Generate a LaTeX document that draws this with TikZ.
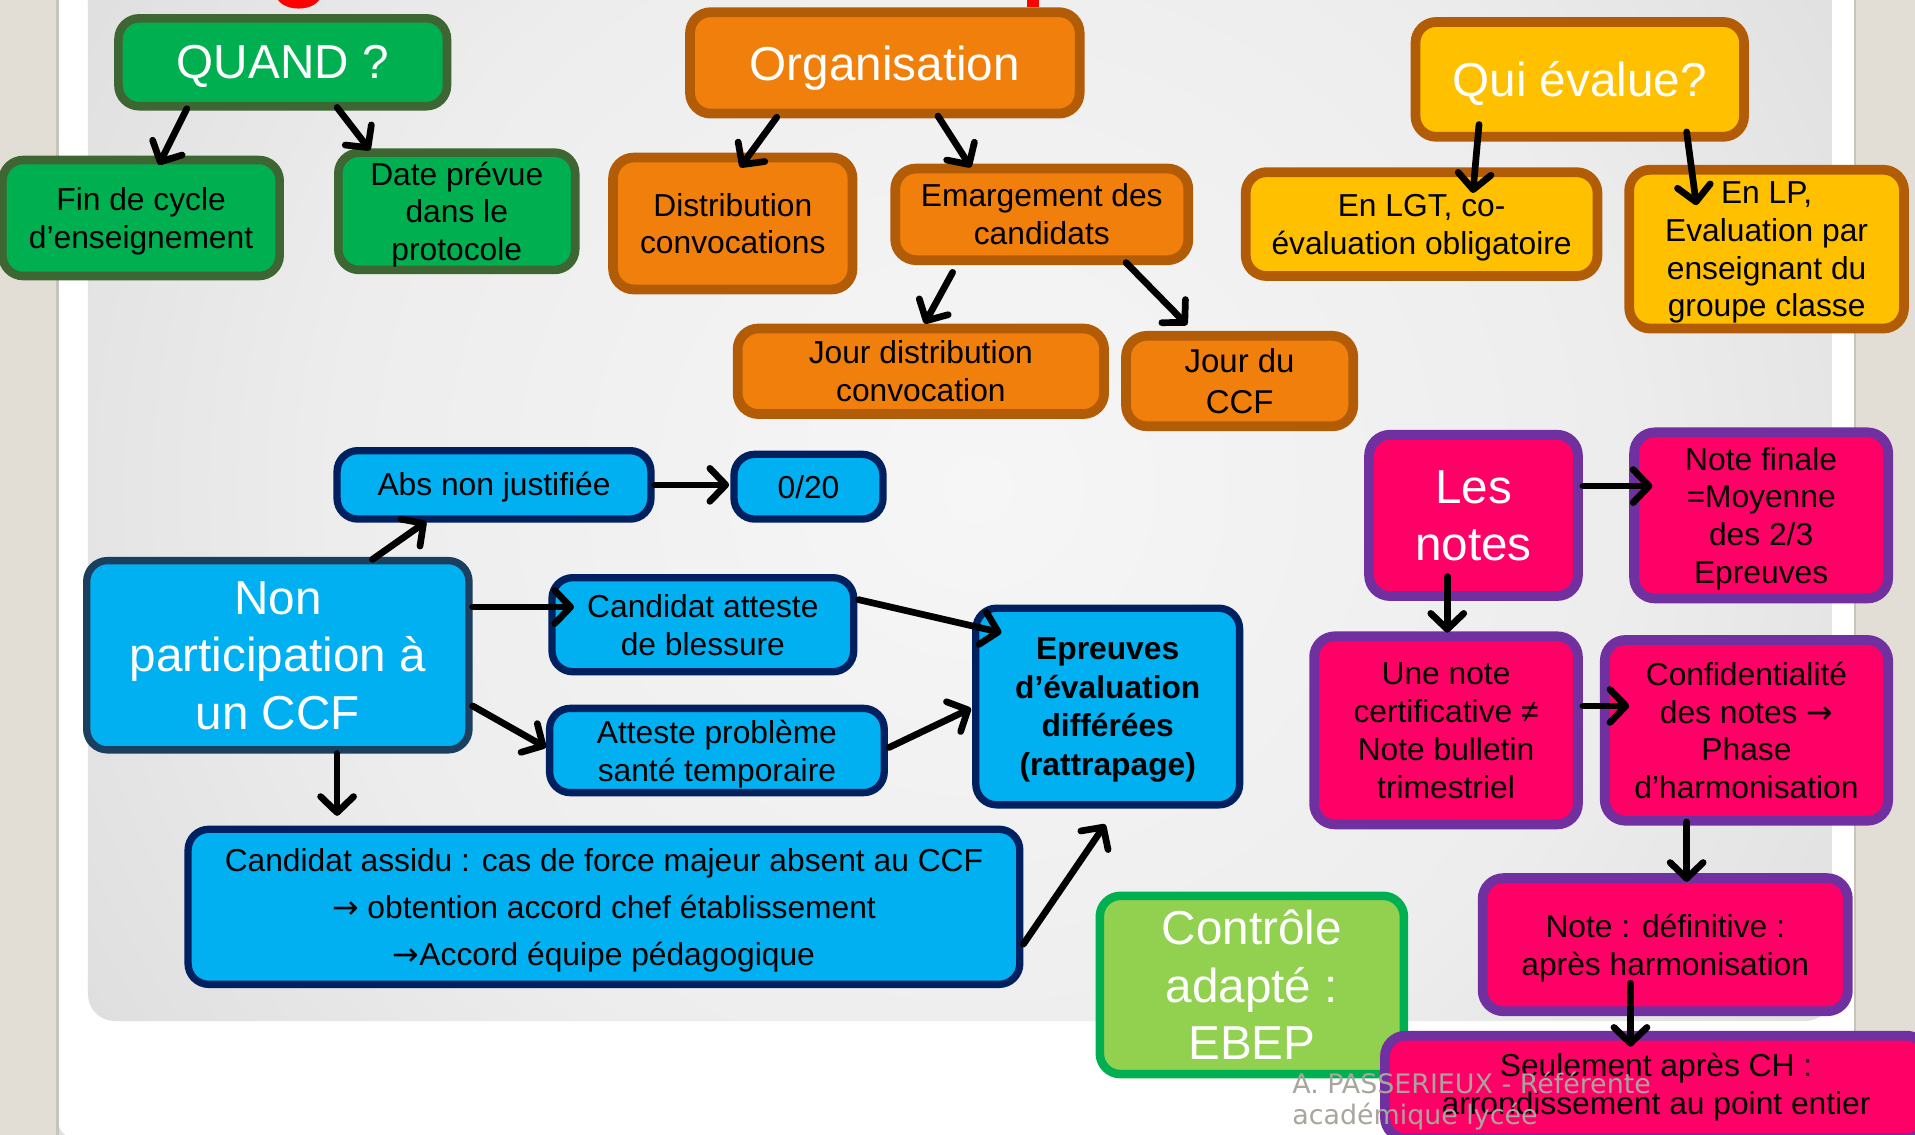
\documentclass[tikz,border=0pt]{standalone}
\usepackage{fontspec}
\setmainfont{Liberation Sans}
\newfontfamily\footfont{DejaVu Sans}
\newcommand\myarrow{{\footfont →}}
\usetikzlibrary{arrows.meta}

\definecolor{grnfill}{HTML}{00B050}
\definecolor{grnline}{HTML}{3E6632}
\definecolor{orfill}{HTML}{F07F0B}
\definecolor{orline}{HTML}{B35C07}
\definecolor{yefill}{HTML}{FFC000}
\definecolor{pkfill}{HTML}{FF0066}
\definecolor{pkline}{HTML}{7030A0}
\definecolor{blfill}{HTML}{00B0F0}
\definecolor{blline}{HTML}{002060}
\definecolor{npline}{HTML}{1B3F5E}
\definecolor{lgfill}{HTML}{92D050}
\definecolor{beige}{HTML}{E3DED5}
\definecolor{beigeline}{HTML}{C9C4BA}
\definecolor{footgray}{HTML}{A9A59D}
\definecolor{shA}{HTML}{F6F6F6}
\definecolor{shB}{HTML}{EDEDED}
\definecolor{shC}{HTML}{DEDEDE}
\definecolor{shD}{HTML}{B6B6B6}
\definecolor{shE}{HTML}{A6A6A6}
\pgfdeclareradialshading{panelshade}{\pgfpoint{0bp}{0bp}}{color(0bp)=(shA); color(18bp)=(shB); color(30bp)=(shC); color(50bp)=(shD); color(60bp)=(shE); color(80bp)=(shE)}

\tikzset{
  bx/.style={draw, rounded corners=17pt, align=center, inner sep=0pt, text=black,
    font=\fontsize{26}{31}\selectfont},
  big/.style={font=\fontsize{39}{47}\selectfont, text=white},
  grn/.style={bx, fill=grnfill, draw=grnline, line width=7pt},
  org/.style={bx, fill=orfill, draw=orline, line width=8pt},
  yel/.style={bx, fill=yefill, draw=orline, line width=8pt},
  pnk/.style={bx, fill=pkfill, draw=pkline, line width=8pt},
  blu/.style={bx, fill=blfill, draw=blline, line width=6pt},
  arr/.style={line width=5.5pt, line cap=round, -{Straight Barb[length=13pt,width=27pt,round]}},
}

\begin{document}
\begin{tikzpicture}[x=1pt,y=-1pt]
\useasboundingbox (0,0) rectangle (1568,929);
\clip (0,0) rectangle (1568,929);

% background
\fill[beige] (0,0) rectangle (1568,929);
\fill[white, rounded corners=12pt] (48,-40) rectangle (1518,931);
\draw[beigeline, line width=2pt] (47,0) -- (47,929);
\draw[beigeline, line width=2pt] (1519,0) -- (1519,929);
\begin{scope}
  \clip[rounded corners=22pt] (72,-60) rectangle (1500,836);
  \shade[shading=panelshade] (72,-300) rectangle (1528,1100);
\end{scope}

% red remnants of the title
\fill[red] (244.5,-4) ellipse [x radius=18pt, y radius=11pt];
\fill[red] (841,-5) rectangle (851,6);

% QUAND
\node[grn, big, text depth=-8pt, minimum width=269pt, minimum height=72pt] (quand) at (231.5,51) {QUAND ?};
\node[grn, text depth=-8pt, minimum width=227pt, minimum height=95pt] (fin) at (115.5,178.5) {Fin de cycle\\d’enseignement};
\node[grn, text depth=-7pt, minimum width=194pt, minimum height=96pt] (date) at (374,173) {Date prévue\\dans le\\protocole};

% Organisation
\node[org, big, text depth=0pt, minimum width=319pt, minimum height=83pt] (orga) at (724.5,51.5) {Organisation};
\node[org, text depth=-6pt, minimum width=196pt, minimum height=108pt] (distrib) at (600,183) {Distribution\\convocations};
\node[org, text depth=-5pt, minimum width=240pt, minimum height=75pt] (emarg) at (853,175.5) {Emargement des\\candidats};
\node[org, text depth=-4pt, minimum width=300pt, minimum height=70pt] (jourdist) at (754,304) {Jour distribution\\convocation};
\node[org, text depth=-4pt, minimum width=186pt, minimum height=74pt, font=\fontsize{27}{33}\selectfont] (jourccf) at (1015,312) {Jour du\\CCF};

% Qui evalue
\node[yel, big, text depth=-4.5pt, minimum width=269pt, minimum height=94pt] (qui) at (1293.5,65) {Qui évalue?};
\node[yel, text depth=-9pt, minimum width=288pt, minimum height=85pt] (lgt) at (1164,183.5) {En LGT, co-\\évaluation obligatoire};
\node[yel, text depth=-11pt, minimum width=225pt, minimum height=130pt] (lp) at (1446.5,204) {En LP,\\Evaluation par\\enseignant du\\groupe classe};

% Non participation
\node[blu, text depth=1.5pt, minimum width=257pt, minimum height=56pt] (abs) at (404.5,397) {Abs non justifiée};
\node[blu, minimum width=122pt, minimum height=53pt] (zero) at (662,398.5) {0/20};
\node[blu, big, text depth=-4pt, draw=npline, minimum width=313pt, minimum height=155pt] (nonpart) at (227.5,536.5) {Non\\participation à\\un CCF};
\node[blu, text depth=-3pt, minimum width=247pt, minimum height=77pt] (candatt) at (575.5,511.5) {Candidat atteste\\de blessure};
\node[blu, text depth=-7pt, minimum width=274pt, minimum height=69pt] (attprob) at (587,614.5) {Atteste problème\\santé temporaire};
\node[blu, text depth=-11pt, minimum width=216pt, minimum height=161pt, font=\fontsize{26}{31.5}\selectfont\bfseries] (epreuves) at (907,578.5) {Epreuves\\d’évaluation\\différées\\(rattrapage)};
\node[blu, text depth=-8pt, minimum width=681pt, minimum height=127pt, font=\fontsize{26}{38.5}\selectfont] (assidu) at (494.5,742.5) {Candidat assidu : cas de force majeur absent au CCF\\\myarrow{} obtention accord chef établissement\\\myarrow{}Accord équipe pédagogique};

% EBEP
\node[bx, big, text depth=-4pt, fill=lgfill, draw=grnfill, line width=7pt, minimum width=249pt, minimum height=146pt] (ebep) at (1025,806.5) {Contrôle\\adapté :\\EBEP};

% Les notes
\node[pnk, big, text depth=-6pt, minimum width=171pt, minimum height=132pt] (notes) at (1206.5,422) {Les\\notes};
\node[pnk, text depth=-10pt, minimum width=208pt, minimum height=136pt] (finale) at (1442,422) {Note finale\\=Moyenne\\des 2/3\\Epreuves};
\node[pnk, text depth=-5pt, minimum width=216pt, minimum height=154pt] (unenote) at (1184,598) {Une note\\certificative ≠\\Note bulletin\\trimestriel};
\node[pnk, text depth=-3pt, minimum width=232pt, minimum height=148pt] (confid) at (1430,598) {Confidentialité\\des notes \myarrow\\Phase\\d’harmonisation};
\node[pnk, text depth=-9pt, minimum width=299pt, minimum height=109pt] (defin) at (1363.5,773.5) {Note : définitive :\\après harmonisation};
\node[pnk, minimum width=444pt, minimum height=84pt] (seul) at (1356,890) {Seulement après CH :\\arrondissement au point entier};

% arrows
\draw[arr] ([shift={(-78.5,38)}]quand.center) -- ([shift={(14.5,-43.5)}]fin.center);
\draw[arr] ([shift={(44.5,37)}]quand.center) -- ([shift={(-71,-50)}]date.center);
\draw[arr] ([shift={(-88.5,44.5)}]orga.center) -- ([shift={(6,-46)}]distrib.center);
\draw[arr] ([shift={(43.5,43.5)}]orga.center) -- ([shift={(-58,-38.5)}]emarg.center);
\draw[arr] ([shift={(-73,47.5)}]emarg.center) -- ([shift={(3,-39)}]jourdist.center);
\draw[arr] ([shift={(69,39.5)}]emarg.center) -- ([shift={(-43,-46)}]jourccf.center);
\draw[arr] ([shift={(-82.5,37)}]qui.center) -- ([shift={(42,-25.5)}]lgt.center);
\draw[arr] ([shift={(87.5,43)}]qui.center) -- ([shift={(-57.5,-36)}]lp.center);

\draw[arr] ([shift={(89.5,-24)}]notes.center) -- ([shift={(-89,-24)}]finale.center);
\draw[arr] ([shift={(-21.5,50)}]notes.center) -- ([shift={(1,-80)}]unenote.center);
\draw[arr] ([shift={(112,-20)}]unenote.center) -- ([shift={(-96,-20)}]confid.center);
\draw[arr] ([shift={(-49,75)}]confid.center) -- ([shift={(17.5,-51.5)}]defin.center);
\draw[arr] ([shift={(-28.5,31.5)}]defin.center) -- ([shift={(-21,-33)}]seul.center);

\draw[arr] ([shift={(131.5,0)}]abs.center) -- ([shift={(-65,-1.5)}]zero.center);
\draw[arr] ([shift={(77.5,-78.5)}]nonpart.center) -- ([shift={(-55.5,30)}]abs.center);
\draw[arr] ([shift={(159.5,-39.5)}]nonpart.center) -- ([shift={(-105.5,-14.5)}]candatt.center);
\draw[arr] ([shift={(159.5,41.5)}]nonpart.center) -- ([shift={(-140,-2.5)}]attprob.center);
\draw[arr] ([shift={(48.5,80.5)}]nonpart.center) -- ([shift={(-218.5,-74.5)}]assidu.center);
\draw[arr] ([shift={(127.5,-20.5)}]candatt.center) -- ([shift={(-87,-60.5)}]epreuves.center);
\draw[arr] ([shift={(141,-2.5)}]attprob.center) -- ([shift={(-112,1.5)}]epreuves.center);
\draw[arr] ([shift={(343.5,30.5)}]assidu.center) -- ([shift={(-2,96.5)}]epreuves.center);

% footer
\node[anchor=base west, align=left, inner sep=0pt, text=footgray,
  font=\footfont\fontsize{22}{26}\selectfont] (foot) at (1058,921) {A. PASSERIEUX - Référente\\académique lycée};
\end{tikzpicture}
\end{document}
